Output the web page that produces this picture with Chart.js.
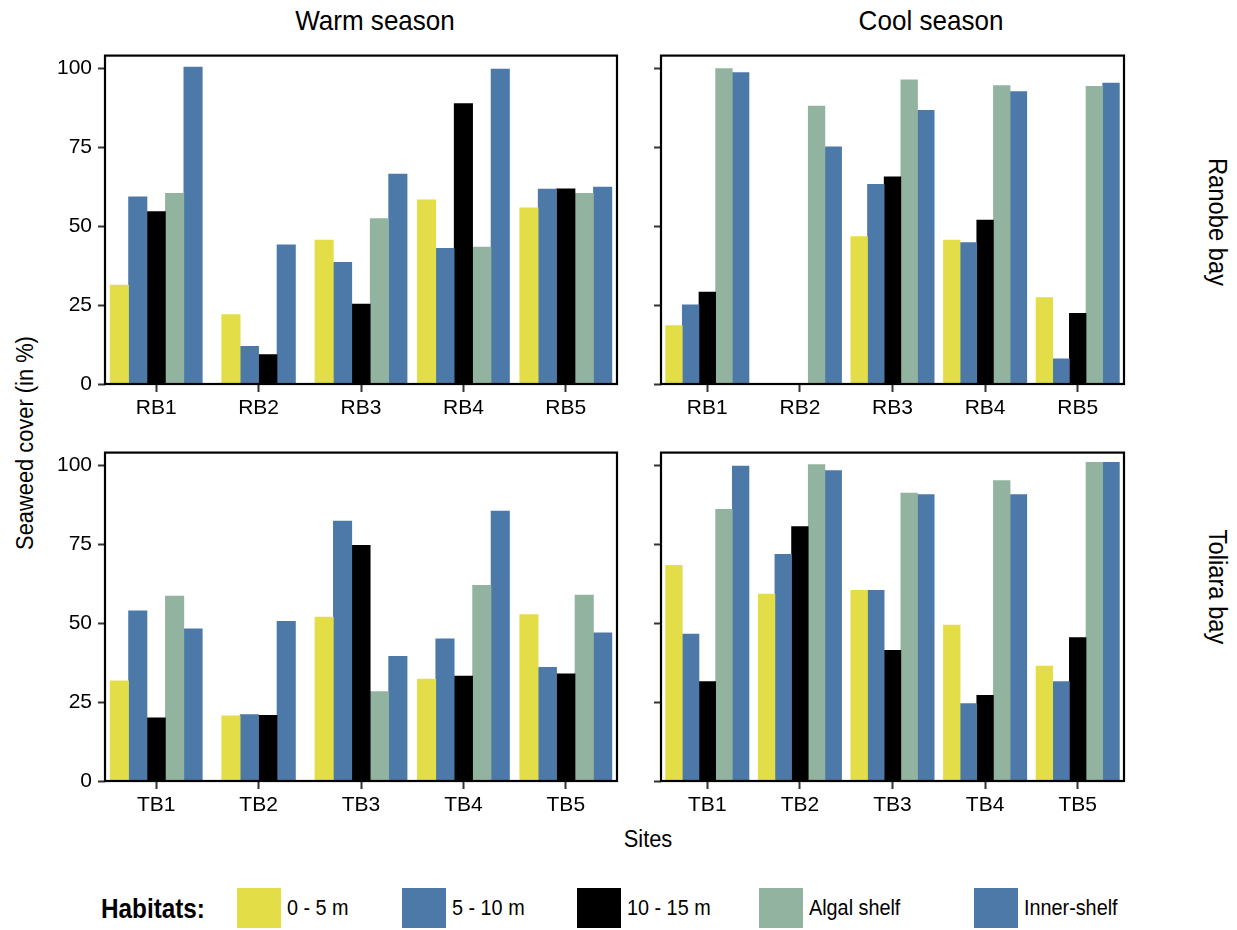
<!DOCTYPE html>
<html>
<head>
<meta charset="utf-8">
<script src="https://cdn.jsdelivr.net/npm/chart.js@4/dist/chart.umd.min.js"></script>
<style>
  html, body { margin: 0; padding: 0; background: #fff; }
  body { width: 1237px; height: 930px; position: relative; overflow: hidden; font-family: 'Liberation Sans', Arial, sans-serif; color: #000; }
  canvas { position: absolute; }
  .txt { position: absolute; white-space: nowrap; line-height: 1; }
  .title { font-size: 28px; transform: translate(-50%, -50%) scaleX(0.93); }
  .strip { font-size: 25px; transform: translate(-50%, -50%) rotate(90deg) scaleX(0.95); }
  .ytitle { font-size: 23px; transform: translate(-50%, -50%) rotate(-90deg) scaleX(0.95); }
  .xtitle { font-size: 23px; transform: translate(-50%, -50%) scaleX(0.95); }
  .legbox { position: absolute; width: 44px; height: 40px; top: 888px; }
  .legtxt { position: absolute; font-size: 22px; top: 908px; transform-origin: left center; transform: translateY(-50%) scaleX(0.9); white-space: nowrap; line-height: 1; }
  .legtitle { position: absolute; font-size: 27px; font-weight: bold; top: 909px; left: 101px; transform-origin: left center; transform: translateY(-50%) scaleX(0.9); line-height: 1; white-space: nowrap; }
</style>
</head>
<body>
<canvas id="tl" width="577" height="387" style="left:45px;top:37px;"></canvas>
<canvas id="tr" width="480" height="387" style="left:649px;top:37px;"></canvas>
<canvas id="bl" width="577" height="387" style="left:45px;top:434px;"></canvas>
<canvas id="br" width="480" height="387" style="left:649px;top:434px;"></canvas>

<div class="txt title" style="left:375px;top:21px;">Warm season</div>
<div class="txt title" style="left:931px;top:21px;">Cool season</div>
<div class="txt strip" style="left:1217px;top:222px;">Ranobe bay</div>
<div class="txt strip" style="left:1217px;top:587px;">Toliara bay</div>
<div class="txt ytitle" style="left:25px;top:443px;">Seaweed cover (in %)</div>
<div class="txt xtitle" style="left:648px;top:839px;">Sites</div>

<div id="legend"></div>

<script>
// ---------- data ----------
const habitats = ['0 - 5 m', '5 - 10 m', '10 - 15 m', 'Algal shelf', 'Inner-shelf'];
const habitatColors = ['#E3DE48', '#4C79A7', '#000000', '#91B3A0', '#4C79A7'];

const sitesRanobe = ['RB1', 'RB2', 'RB3', 'RB4', 'RB5'];
const sitesToliara = ['TB1', 'TB2', 'TB3', 'TB4', 'TB5'];
const yTicks = [0, 25, 50, 75, 100];

// Warm season - Ranobe bay
const warmRB_0_5   = [31.3, 22.0, 45.6, 58.3, 55.8];
const warmRB_5_10  = [59.3, 11.9, 38.5, 43.0, 61.7];
const warmRB_10_15 = [54.6, 9.3, 25.3, 88.8, 61.8];
const warmRB_algal = [60.4, null, 52.4, 43.4, 60.4];
const warmRB_inner = [100.4, 44.1, 66.5, 99.7, 62.4];

// Cool season - Ranobe bay
const coolRB_0_5   = [18.5, 0, 46.7, 45.6, 27.4];
const coolRB_5_10  = [25.1, 0, 63.2, 44.8, 8.0];
const coolRB_10_15 = [29.1, 0, 65.6, 51.9, 22.4];
const coolRB_algal = [99.9, 88.0, 96.3, 94.5, 94.3];
const coolRB_inner = [98.6, 75.1, 86.7, 92.6, 95.3];

// Warm season - Toliara bay
const warmTB_0_5   = [31.7, 20.6, 51.9, 32.3, 52.7];
const warmTB_5_10  = [53.9, 21.0, 82.3, 45.0, 36.0];
const warmTB_10_15 = [20.0, 20.8, 74.6, 33.2, 33.9];
const warmTB_algal = [58.6, null, 28.3, 62.0, 58.9];
const warmTB_inner = [48.2, 50.6, 39.5, 85.5, 46.9];

// Cool season - Toliara bay
const coolTB_0_5   = [68.3, 59.2, 60.4, 49.4, 36.4];
const coolTB_5_10  = [46.5, 71.8, 60.4, 24.5, 31.5];
const coolTB_10_15 = [31.5, 80.6, 41.4, 27.1, 45.4];
const coolTB_algal = [86.0, 100.2, 91.2, 95.1, 100.9];
const coolTB_inner = [99.7, 98.3, 90.7, 90.7, 100.9];

// ---------- chart helpers ----------
Chart.defaults.font.family = "'Liberation Sans', Arial, sans-serif";
Chart.defaults.color = '#000';

const framePlugin = {
  id: 'frame',
  afterDraw(chart) {
    const { ctx, chartArea: a } = chart;
    ctx.save();
    ctx.strokeStyle = '#000';
    ctx.lineWidth = 2.2;
    ctx.strokeRect(a.left, a.top, a.right - a.left, a.bottom - a.top);
    ctx.restore();
  }
};

function makePanel(id, labels, series, opts) {
  const datasets = series.map((d, i) => ({
    label: habitats[i],
    data: d,
    backgroundColor: habitatColors[i],
    borderWidth: 0,
    barThickness: opts.barThickness,
    skipNull: true,
    categoryPercentage: 0.9,
    barPercentage: 1.0
  }));
  return new Chart(document.getElementById(id), {
    type: 'bar',
    data: { labels, datasets },
    plugins: [framePlugin],
    options: {
      responsive: false,
      animation: false,
      devicePixelRatio: 1,
      layout: { padding: { top: 15, right: 5, left: 0, bottom: 0 } },
      plugins: { legend: { display: false }, tooltip: { enabled: false } },
      scales: {
        x: {
          offset: true,
          grid: { display: true, drawOnChartArea: false, offset: false, drawTicks: true,
                  tickLength: 8, tickColor: '#333', tickWidth: 2 },
          border: { display: false },
          ticks: { font: { size: 21 }, color: '#000', padding: 4, maxRotation: 0 },
          afterFit(scale) { scale.height = 40; }
        },
        y: {
          min: 0,
          max: 104,
          afterBuildTicks(scale) { scale.ticks = yTicks.map(v => ({ value: v })); },
          grid: { display: true, drawOnChartArea: false, drawTicks: true,
                  tickLength: 7, tickColor: '#333', tickWidth: 2 },
          border: { display: false },
          ticks: { font: { size: 21 }, color: opts.showY ? '#000' : 'rgba(0,0,0,0)', padding: 6 },
          afterFit(scale) { scale.width = opts.yWidth; }
        }
      }
    }
  });
}

makePanel('tl', sitesRanobe, [warmRB_0_5, warmRB_5_10, warmRB_10_15, warmRB_algal, warmRB_inner],
  { barThickness: 18.43, showY: true, yWidth: 60 });
makePanel('tr', sitesRanobe, [coolRB_0_5, coolRB_5_10, coolRB_10_15, coolRB_algal, coolRB_inner],
  { barThickness: 16.67, showY: false, yWidth: 12 });
makePanel('bl', sitesToliara, [warmTB_0_5, warmTB_5_10, warmTB_10_15, warmTB_algal, warmTB_inner],
  { barThickness: 18.43, showY: true, yWidth: 60 });
makePanel('br', sitesToliara, [coolTB_0_5, coolTB_5_10, coolTB_10_15, coolTB_algal, coolTB_inner],
  { barThickness: 16.67, showY: false, yWidth: 12 });

// ---------- legend ----------
const legendBoxX = [237, 402, 577, 759, 974];
const legend = document.getElementById('legend');
const lt = document.createElement('div');
lt.className = 'legtitle';
lt.textContent = 'Habitats:';
legend.appendChild(lt);
habitats.forEach((h, i) => {
  const b = document.createElement('div');
  b.className = 'legbox';
  b.style.left = legendBoxX[i] + 'px';
  b.style.background = habitatColors[i];
  legend.appendChild(b);
  const t = document.createElement('div');
  t.className = 'legtxt';
  t.style.left = (legendBoxX[i] + 50) + 'px';
  t.textContent = h;
  legend.appendChild(t);
});
</script>
</body>
</html>
